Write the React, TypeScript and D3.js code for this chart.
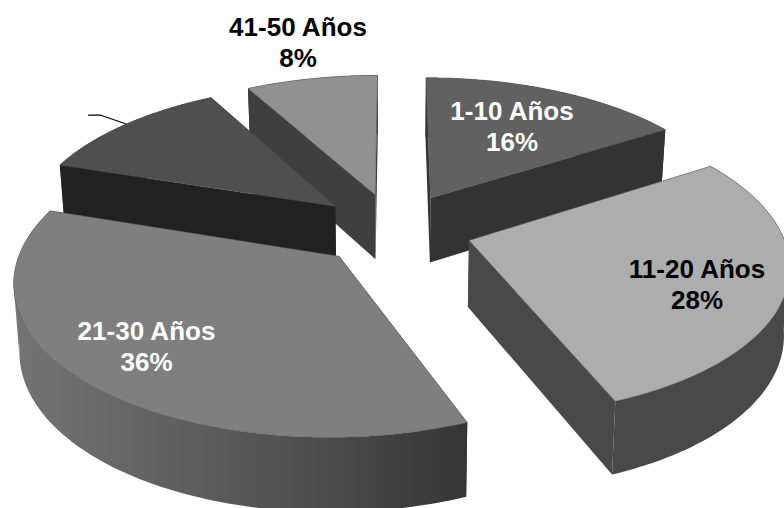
import * as d3 from "d3";

// values
const categories = ["1-10 Años", "11-20 Años", "21-30 Años", "31-40 Años", "41-50 Años"];
const percents = [16, 28, 36, 12, 8];
const topColors = ["#616161", "#adadad", "#7f7f7f", "#4f4f4f", "#919191"];
const wallColors = ["#333333", "#494949", "#494949", "#212121", "#3f3f3f"];
const labelColors = ["#fff", "#000", "#fff", "", "#000"];
const drawOrder = [4, 0, 3, 1, 2];

const width = 784;
const height = 508;

// perspective settings fitted to the reference
const cx = 394;
const cy = 229;
const scaleX = 312;
const scaleY = 146;
const persp = 0.145;
const explode = 0.25;
const thickness = 66;

const labelPos: Record<number, [number, number]> = {
    0: [512, 120],
    1: [697, 278],
    2: [146.5, 340],
    4: [298, 36],
};

type Arc = d3.PieArcDatum<number>;

function project(a: Arc, theta: number, r: number, lower: boolean): [number, number] {
    const mid = (a.startAngle + a.endAngle) / 2;
    const X = explode * Math.sin(mid) + r * Math.sin(theta);
    const Y = explode * Math.cos(mid) + r * Math.cos(theta);
    const D = 1 + persp * Y;
    let x = cx + (scaleX * X) / D;
    let y = cy - (scaleY * Y) / D;
    if (lower) {
        x = cx + (x - cx) * 0.985;
        y += thickness / (1 + 0.1 * Y);
    }
    return [x, y];
}

const line = d3.line();

export default function App() {
    const pie = d3.pie<number>().sort(null).value((d) => d);
    const arcs = pie(percents);

    const rimPts = (a: Arc, lower: boolean) =>
        d3.range(0, 121).map((i) => project(a, a.startAngle + ((a.endAngle - a.startAngle) * i) / 120, 1, lower));

    const wall = (a: Arc, theta: number) =>
        line([project(a, theta, 0, false), project(a, theta, 1, false), project(a, theta, 1, true), project(a, theta, 0, true)]) + "Z";

    // outer wall split where it folds over at the far left/right, overlapping a few samples
    const rimPaths = (upper: [number, number][], lower: [number, number][]) => {
        const fold = d3.greatestIndex(upper, (p) => Math.abs(p[0] - cx));
        const band = (from: number, to: number) =>
            line([...upper.slice(from, to), ...lower.slice(from, to).reverse()]) + "Z";
        if (fold <= 0 || fold >= upper.length - 1) return [band(0, upper.length)];
        return [band(0, fold + 4), band(Math.max(fold - 3, 0), upper.length)];
    };

    const slice4 = arcs[3];
    const anchor = project(slice4, slice4.startAngle + (slice4.endAngle - slice4.startAngle) * 0.51, 1, false);

    return (
        <svg width={width} height={height} style={{ position: "absolute", left: 0, top: 0, background: "#fff" }}>
            <defs>
                <linearGradient id="rim21" gradientUnits="userSpaceOnUse" x1={13} x2={468} y1={0} y2={0}>
                    <stop offset="0" stopColor="#747474" />
                    <stop offset="0.35" stopColor="#606060" />
                    <stop offset="0.7" stopColor="#4b4b4b" />
                    <stop offset="1" stopColor="#353535" />
                </linearGradient>
            </defs>
            {/* leader line of the unlabelled slice */}
            <path
                d={line([anchor, [anchor[0] - 26, anchor[1] - 9], [anchor[0] - 38, anchor[1] - 9]]) ?? ""}
                fill="none"
                stroke="#000"
                strokeWidth={1.2}
            />
            {drawOrder.map((i) => {
                const a = arcs[i];
                const upper = rimPts(a, false);
                const lower = rimPts(a, true);
                const top = line([project(a, 0, 0, false), ...upper]) + "Z";
                const rimFill = i === 2 ? "url(#rim21)" : wallColors[i];
                return (
                    <g key={categories[i]}>
                        <path d={wall(a, a.startAngle)} fill={wallColors[i]} />
                        <path d={wall(a, a.endAngle)} fill={wallColors[i]} />
                        {rimPaths(upper, lower).map((d, k) => (
                            <path key={k} d={d} fill={rimFill} />
                        ))}
                        <path d={top} fill={topColors[i]} stroke="#555" strokeWidth={0.5} />
                    </g>
                );
            })}
            {categories.map((c, i) =>
                labelPos[i] ? (
                    <text
                        key={c}
                        x={labelPos[i][0]}
                        y={labelPos[i][1]}
                        textAnchor="middle"
                        fontFamily="'Liberation Sans', Arial, sans-serif"
                        fontWeight="bold"
                        fontSize={26}
                        fill={labelColors[i]}
                    >
                        <tspan x={labelPos[i][0]}>{c}</tspan>
                        <tspan x={labelPos[i][0]} dy={31}>{percents[i]}%</tspan>
                    </text>
                ) : null
            )}
        </svg>
    );
}
